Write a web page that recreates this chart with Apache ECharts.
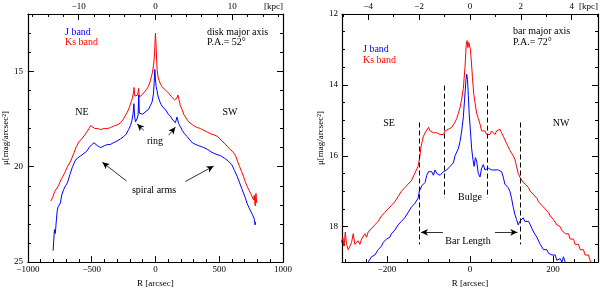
<!DOCTYPE html>
<html><head><meta charset="utf-8">
<script src="https://cdn.jsdelivr.net/npm/echarts@6/dist/echarts.min.js"></script>
<style>html,body{margin:0;padding:0;background:#fff}#c{width:600px;height:293px}</style>
</head><body><div id="c"></div>
<script>
// ---------- data (R [arcsec], mu [mag/arcsec^2]) ----------
const diskKs = [[-820,21.8],[-805,21.6],[-790,21.3],[-775,21.35],[-760,21.0],[-742,20.7],[-725,20.5],[-710,20.3],[-690,20.0],[-664,19.7],[-640,19.3],[-620,18.95],[-600,18.7],[-573,18.5],[-555,18.35],[-540,18.2],[-520,18.0],[-508,17.85],[-495,17.95],[-475,18.0],[-455,18.0],[-430,18.05],[-400,18.0],[-375,18.0],[-352,17.95],[-320,17.85],[-295,17.8],[-273,17.7],[-250,17.5],[-235,17.3],[-221,17.15],[-205,16.9],[-190,16.6],[-180,16.4],[-172,16.1],[-168,15.85],[-162,16.3],[-150,16.35],[-140,16.25],[-132,15.9],[-126,16.35],[-115,16.3],[-100,16.2],[-85,16.1],[-70,15.95],[-55,15.8],[-40,15.5],[-25,15.1],[-15,14.7],[-8,14.2],[-4,13.6],[0,13.0],[4,13.5],[8,14.2],[13,14.9],[20,15.3],[30,15.5],[39,15.65],[50,15.8],[65,15.9],[80,16.0],[91,16.07],[105,16.15],[120,16.3],[135,16.4],[150,16.5],[160,16.55],[169,16.4],[176,16.25],[185,16.5],[195,16.8],[208,17.0],[225,17.3],[245,17.5],[260,17.65],[273,17.75],[290,17.8],[310,17.9],[330,17.95],[352,18.0],[380,18.1],[410,18.2],[440,18.3],[465,18.35],[482,18.4],[500,18.5],[520,18.65],[545,18.8],[565,18.95],[586,19.1],[605,19.2],[620,19.3],[630,19.45],[645,19.75],[660,20.0],[675,20.25],[690,20.5],[705,20.8],[720,21.05],[735,21.25],[750,21.45],[760,21.55],[770,21.75],[775,21.5],[782,22.05],[788,21.4],[794,21.9]];
const diskJ = [[-802,24.4],[-798,23.9],[-792,23.3],[-785,23.5],[-778,22.9],[-770,22.3],[-763,22.1],[-755,22.0],[-745,21.9],[-735,21.5],[-720,21.2],[-705,21.0],[-690,20.85],[-670,20.4],[-650,20.0],[-630,19.7],[-612,19.55],[-590,19.45],[-575,19.4],[-560,19.3],[-540,19.2],[-520,19.0],[-500,18.85],[-482,18.75],[-470,18.8],[-455,18.9],[-440,18.85],[-430,19.0],[-415,18.95],[-400,18.9],[-380,18.85],[-352,18.83],[-330,18.75],[-300,18.65],[-275,18.55],[-248,18.42],[-230,18.3],[-210,18.05],[-195,17.83],[-185,17.6],[-175,17.2],[-169,16.7],[-163,17.4],[-156,17.65],[-145,17.5],[-136,17.3],[-131,16.25],[-126,17.2],[-115,17.3],[-100,17.25],[-91,17.2],[-75,17.1],[-55,17.0],[-40,16.8],[-26,16.6],[-16,16.2],[-10,15.6],[-5,14.9],[0,15.4],[5,15.8],[12,16.0],[20,16.3],[26,16.4],[35,16.6],[45,16.75],[52,16.8],[60,16.9],[70,16.95],[78,17.0],[90,17.1],[100,17.25],[117,17.35],[130,17.5],[145,17.6],[156,17.7],[163,17.6],[169,17.4],[175,17.55],[182,17.75],[195,17.9],[210,18.1],[225,18.25],[248,18.42],[270,18.6],[290,18.75],[312,18.83],[340,18.9],[378,19.0],[410,19.1],[443,19.25],[475,19.35],[508,19.42],[540,19.55],[570,19.7],[599,19.9],[620,20.2],[640,20.5],[660,20.85],[680,21.2],[703,21.6],[720,21.95],[742,22.27],[760,22.5],[775,22.75],[781,23.05],[785,22.9]];
const barKs = [[-310,18.45],[-306,18.3],[-303,18.55],[-300,18.15],[-297,18.5],[-293,18.65],[-289,18.7],[-285,18.45],[-281,18.2],[-277,18.5],[-273,18.55],[-269,18.4],[-265,18.5],[-261,18.35],[-257,18.4],[-253,18.2],[-249,18.3],[-245,18.15],[-241,18.2],[-237,18.05],[-233,18.1],[-229,17.95],[-225,18.0],[-221,17.85],[-217,17.9],[-213,17.7],[-209,17.72],[-205,17.6],[-201,17.65],[-197,17.5],[-193,17.52],[-189,17.4],[-185,17.45],[-181,17.3],[-177,17.28],[-173,17.15],[-169,17.2],[-165,17.0],[-161,17.05],[-157,16.9],[-153,16.95],[-149,16.8],[-145,16.75],[-141,16.7],[-137,16.6],[-133,16.5],[-129,16.4],[-125,16.3],[-121,16.05],[-118,15.75],[-115,15.6],[-112,15.45],[-108,15.35],[-104,15.3],[-100,15.2],[-96,15.3],[-92,15.25],[-88,15.35],[-84,15.3],[-80,15.35],[-76,15.3],[-72,15.4],[-68,15.35],[-64,15.4],[-60,15.3],[-56,15.35],[-52,15.25],[-48,15.3],[-44,15.2],[-40,15.15],[-36,15.05],[-32,14.95],[-28,14.8],[-24,14.65],[-20,14.4],[-16,14.1],[-12,13.5],[-9,12.85],[-7,12.75],[-5,12.95],[-3,12.8],[-1,12.75],[1,13.0],[3,13.3],[6,13.8],[9,14.25],[12,14.5],[16,14.8],[20,14.95],[24,15.1],[28,15.3],[32,15.35],[36,15.3],[40,15.4],[44,15.35],[48,15.4],[52,15.3],[56,15.35],[60,15.4],[64,15.3],[68,15.35],[72,15.25],[76,15.35],[80,15.45],[84,15.5],[88,15.65],[92,15.75],[96,15.85],[100,15.8],[104,16.0],[108,16.1],[112,16.3],[116,16.5],[120,16.6],[124,16.65],[128,16.75],[133,16.8],[137,16.85],[141,16.9],[145,17.0],[149,17.0],[153,17.1],[157,17.05],[161,17.2],[165,17.3],[169,17.25],[173,17.4],[177,17.35],[181,17.5],[185,17.55],[189,17.6],[193,17.7],[197,17.65],[201,17.8],[205,17.85],[209,17.95],[213,17.9],[217,18.0],[221,18.1],[225,18.05],[229,18.2],[233,18.25],[237,18.2],[241,18.35],[245,18.4],[249,18.35],[253,18.5],[257,18.55],[261,18.5],[265,18.65],[269,18.7],[273,18.65],[277,18.8],[281,18.85],[285,18.8],[289,18.95],[293,19.05],[297,19.1]];
const barJ = [[-250,19.1],[-245,19.0],[-241,18.95],[-237,18.85],[-233,18.9],[-229,18.8],[-225,18.75],[-221,18.65],[-217,18.6],[-213,18.55],[-209,18.45],[-205,18.4],[-201,18.35],[-197,18.3],[-193,18.3],[-189,18.2],[-185,18.2],[-181,18.1],[-177,18.05],[-173,17.95],[-169,17.9],[-165,17.85],[-161,17.8],[-157,17.75],[-153,17.7],[-149,17.6],[-145,17.55],[-141,17.45],[-137,17.45],[-133,17.35],[-129,17.3],[-125,17.2],[-122,17.0],[-119,16.95],[-116,16.85],[-112,16.9],[-108,16.75],[-104,16.55],[-100,16.45],[-96,16.5],[-92,16.45],[-88,16.55],[-84,16.4],[-80,16.5],[-76,16.45],[-72,16.55],[-68,16.5],[-64,16.45],[-60,16.5],[-56,16.4],[-52,16.35],[-48,16.3],[-44,16.3],[-40,16.2],[-36,16.0],[-32,15.95],[-28,15.8],[-24,15.6],[-20,15.3],[-16,14.9],[-13,14.4],[-10,13.9],[-8,13.7],[-6,13.85],[-4,14.3],[-2,14.8],[1,15.3],[4,15.8],[7,16.1],[10,16.3],[13,16.05],[16,16.15],[20,16.5],[24,16.6],[28,16.35],[32,16.25],[36,16.4],[40,16.45],[44,16.35],[48,16.35],[52,16.4],[56,16.35],[60,16.4],[64,16.35],[68,16.4],[72,16.45],[76,16.45],[80,16.6],[84,16.8],[88,16.75],[92,16.9],[96,17.0],[100,17.2],[104,17.45],[108,17.65],[112,17.8],[116,17.95],[120,17.85],[124,17.8],[128,17.75],[132,17.85],[136,17.8],[141,17.85],[145,17.95],[149,18.05],[153,18.15],[157,18.2],[161,18.3],[165,18.35],[169,18.5],[173,18.55],[177,18.65],[181,18.6],[185,18.65],[189,18.75],[193,18.7],[197,18.8],[201,18.85],[205,18.8],[209,18.95],[213,18.9],[217,18.9],[221,19.0],[225,18.85],[229,19.0],[233,19.1]];

// ---------- axis ticks / labels ----------
const diskXLabels = [-1000,-500,0,500,1000];
const diskXMinor = [-900,-800,-700,-600,-400,-300,-200,-100,100,200,300,400,600,700,800,900];
const diskKpcLabels = [-10,0,10];
const diskKpcMinor = [-16,-14,-12,-8,-6,-4,-2,2,4,6,8,12,14,16];
const diskYLabels = [15,20,25];
const diskYMinor = [13,14,16,17,18,19,21,22,23,24];
const barXLabels = [-200,0,200];
const barXMinor = [-300,-250,-150,-100,-50,50,100,150,250,300];
const barKpcLabels = [-4,-2,0,2,4];
const barKpcMinor = [-5,-3,-1,1,3,5];
const barYLabels = [12,14,16,18];
const barYMinor = [12.5,13,13.5,14.5,15,15.5,16.5,17,17.5,18.5];

// ---------- annotations (data coordinates) ----------
const diskArrows = [[[-91,18.1],[-143,17.76]],[[104,18.35],[156,17.93]],[[-227,20.75],[-416,19.77]],[[234,20.78],[456,19.97]]];
const barArrows = [[[-65,18.16],[-118,18.16]],[[60,18.16],[114,18.16]]];
const barDashed = [[-122,15.06,18.5],[-62,14.02,17.19],[41,14.02,17.19],[121,15.06,18.5]];

const FONT = 'Liberation Serif';
const FS = 9;
const AFS = 10;
const minus = v => String(v).replace('-', '\u2212');

function xPair(gi, pos, min, max, labels, minors, name) {
  const base = {
    type: 'value', gridIndex: gi, position: pos, min, max,
    splitLine: {show: false}
  };
  return [
    Object.assign({}, base, {
      axisLine: {show: true, onZero: false, lineStyle: {color: '#000', width: 1.2}},
      axisTick: {show: true, inside: true, length: 6, customValues: labels, lineStyle: {color: '#000'}},
      axisLabel: {show: true, customValues: labels, formatter: minus, margin: 3,
        fontFamily: FONT, fontSize: FS, color: '#000'},
      name: name || '', nameLocation: 'middle', nameGap: 12,
      nameTextStyle: {fontFamily: FONT, fontSize: FS, color: '#000'}
    }),
    Object.assign({}, base, {
      axisLine: {show: false, onZero: false},
      axisTick: {show: true, inside: true, length: 3, customValues: minors, lineStyle: {color: '#000'}},
      axisLabel: {show: false}
    })
  ];
}
function yPair(gi, pos, min, max, labels, minors, showLabels, margin, nameGap) {
  const base = {
    type: 'value', gridIndex: gi, position: pos, min, max, inverse: true,
    splitLine: {show: false}
  };
  return [
    Object.assign({}, base, {
      axisLine: {show: true, onZero: false, lineStyle: {color: '#000', width: 1.2}},
      axisTick: {show: true, inside: true, length: 6, customValues: labels, lineStyle: {color: '#000'}},
      axisLabel: {show: showLabels, customValues: labels, margin: margin,
        fontFamily: FONT, fontSize: FS, color: '#000'},
      name: showLabels ? '\u03bc[mag/arcsec\u00b2]' : '', nameLocation: 'middle', nameGap: nameGap,
      nameTextStyle: {fontFamily: FONT, fontSize: FS, color: '#000'}
    }),
    Object.assign({}, base, {
      axisLine: {show: false, onZero: false},
      axisTick: {show: true, inside: true, length: 3, customValues: minors, lineStyle: {color: '#000'}},
      axisLabel: {show: false}
    })
  ];
}

const kpcL = 1000 / 60.2, kpcR = 308 / 61.2;
const xAxis = [].concat(
  xPair(0, 'bottom', -1000, 1000, diskXLabels, diskXMinor, 'R [arcsec]'), // 0,1
  xPair(0, 'top', -kpcL, kpcL, diskKpcLabels, diskKpcMinor),             // 2,3
  xPair(1, 'bottom', -308, 308, barXLabels, barXMinor, 'R [arcsec]'),    // 4,5
  xPair(1, 'top', -kpcR, kpcR, barKpcLabels, barKpcMinor)                // 6,7
);
const yAxis = [].concat(
  yPair(0, 'left', 12, 25, diskYLabels, diskYMinor, true, 5, 16),   // 0,1
  yPair(0, 'right', 12, 25, diskYLabels, diskYMinor, false, 5, 0),  // 2,3
  yPair(1, 'left', 12, 19, barYLabels, barYMinor, true, 4, 17),     // 4,5
  yPair(1, 'right', 12, 19, barYLabels, barYMinor, false, 4, 0)     // 6,7
);

const arrowML = arr => ({
  silent: true, symbol: ['none', 'arrow'], symbolSize: [5, 7],
  label: {show: false}, lineStyle: {color: '#000', width: 0.8, type: 'solid'},
  data: arr.map(a => [{coord: a[0]}, {coord: a[1]}])
});
const dashedML = {
  silent: true, symbol: ['none', 'none'], label: {show: false},
  lineStyle: {color: '#000', width: 1, type: [5, 3]},
  data: barDashed.map(d => [{coord: [d[0], d[1]]}, {coord: [d[0], d[2]]}])
};

const line = (data, color, xi, yi, extra) => Object.assign({
  type: 'line', data, xAxisIndex: xi, yAxisIndex: yi, showSymbol: false,
  lineStyle: {color, width: 1}, itemStyle: {color}, clip: true, z: 3
}, extra || {});

const txt = (x, y, s, color, align, fs) => ({
  type: 'text', x, y,
  style: {text: s, fill: color || '#000', font: (fs || AFS) + 'px "' + FONT + '"',
    textAlign: align || 'left', textVerticalAlign: 'middle'}
});

const option = {
  animation: false,
  backgroundColor: '#fff',
  grid: [
    {left: 27, top: 14, width: 256, height: 258},
    {left: 342, top: 14, width: 256, height: 258}
  ],
  xAxis, yAxis,
  series: [
    line(diskKs, '#ff0000', 0, 0, {markLine: arrowML(diskArrows)}),
    line(diskJ, '#0000ff', 0, 0),
    line(barKs, '#ff0000', 4, 4, {markLine: dashedML}),
    line(barJ, '#0000ff', 4, 4),
    line([], '#000', 4, 4, {markLine: arrowML(barArrows)})
  ],
  graphic: [
    txt(65, 32, 'J band', '#0000ff'),
    txt(65, 42, 'Ks band', '#ff0000'),
    txt(207, 32, 'disk major axis'),
    txt(207, 42, 'P.A.= 52\u00b0'),
    txt(82, 112, 'NE', '#000', 'center'),
    txt(230, 112, 'SW', '#000', 'center'),
    txt(155, 141, 'ring', '#000', 'center'),
    txt(154, 190, 'spiral arms', '#000', 'center'),
    txt(283, 7, '[kpc]', '#000', 'right', FS),
    txt(363, 49, 'J band', '#0000ff'),
    txt(363, 60, 'Ks band', '#ff0000'),
    txt(513, 31, 'bar major axis'),
    txt(513, 42, 'P.A.= 72\u00b0'),
    txt(389, 123, 'SE', '#000', 'center'),
    txt(561, 123, 'NW', '#000', 'center'),
    txt(470, 197, 'Bulge', '#000', 'center'),
    txt(468, 241, 'Bar Length', '#000', 'center'),
    txt(598, 7, '[kpc]', '#000', 'right', FS)
  ]
};
const chart = echarts.init(document.getElementById('c'), null, {renderer: 'canvas'});
chart.setOption(option);
</script></body></html>
